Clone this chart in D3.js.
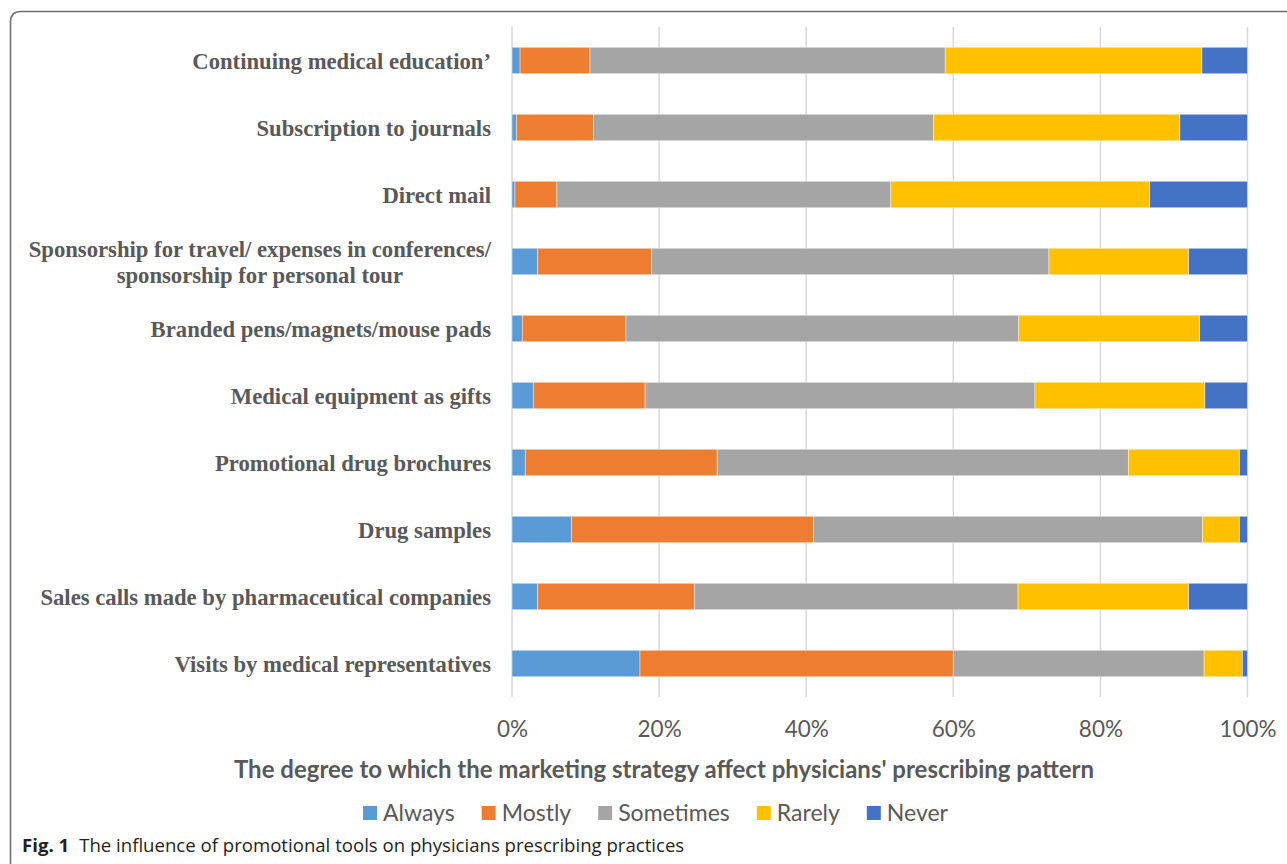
<!DOCTYPE html>
<html>
<head>
<meta charset="utf-8">
<script src="https://cdn.jsdelivr.net/npm/d3@7"></script>
<style>
  body { margin: 0; background: #fff; }
  svg { display: block; }
</style>
</head>
<body>
<div id="chart"></div>
<script>
// categories, top to bottom
var categories = [
  "Continuing medical education\u2019",
  "Subscription to journals",
  "Direct mail",
  "Sponsorship for travel/ expenses in conferences/\nsponsorship for personal tour",
  "Branded pens/magnets/mouse pads",
  "Medical equipment as gifts",
  "Promotional drug brochures",
  "Drug samples",
  "Sales calls made by pharmaceutical companies",
  "Visits by medical representatives"
];

var seriesNames = ["Always", "Mostly", "Sometimes", "Rarely", "Never"];
var seriesColors = ["#5b9bd5", "#ed7d31", "#a5a5a5", "#ffc000", "#4472c4"];

// percentages
var always    = [1.1, 0.6, 0.4, 3.5, 1.4, 2.9, 1.8, 8.1, 3.5, 17.4];
var mostly    = [9.5, 10.5, 5.7, 15.5, 14.1, 15.2, 26.1, 32.9, 21.3, 42.6];
var sometimes = [48.3, 46.2, 45.4, 54.0, 53.4, 53.0, 55.9, 52.9, 44.0, 34.1];
var rarely    = [34.9, 33.5, 35.2, 19.0, 24.6, 23.1, 15.1, 5.0, 23.2, 5.2];
var never     = [6.2, 9.2, 13.3, 8.0, 6.5, 5.8, 1.1, 1.1, 8.0, 0.7];

var tickValues = [0, 20, 40, 60, 80, 100];

var axisTitle = "The degree to which the marketing strategy affect physicians' prescribing pattern";
var captionBold = "Fig. 1";
var captionText = "The influence of promotional tools on physicians prescribing practices";

var width = 1287, height = 864;
var plot = {left: 512, right: 1247.5, top: 27, bottom: 697};

var rows = categories.map(function(c, i) {
  return {cat: c, Always: always[i], Mostly: mostly[i], Sometimes: sometimes[i], Rarely: rarely[i], Never: never[i]};
});

var svg = d3.select("#chart").append("svg")
    .attr("width", width)
    .attr("height", height);

// frame with rounded top-left corner
svg.append("path")
  .attr("d", "M10.5,870 L10.5,22 Q10.5,11.5 21,11.5 L1295,11.5")
  .attr("fill", "none")
  .attr("stroke", "#6e6e6e")
  .attr("stroke-width", 1.6);

var x = d3.scaleLinear().domain([0, 100]).range([plot.left, plot.right]);
var y = d3.scaleBand().domain(categories).range([plot.top, plot.bottom]).paddingInner(0.605).paddingOuter(0.3025);

// gridlines
svg.append("g")
  .selectAll("line")
  .data(tickValues)
  .join("line")
    .attr("x1", function(d) { return x(d); })
    .attr("x2", function(d) { return x(d); })
    .attr("y1", plot.top)
    .attr("y2", plot.bottom)
    .attr("stroke", "#d9d9d9")
    .attr("stroke-width", 1.5);

// stacked bars
var stack = d3.stack().keys(seriesNames);
var layers = stack(rows);

svg.append("g")
  .selectAll("g")
  .data(layers)
  .join("g")
    .attr("fill", function(d, i) { return seriesColors[i]; })
  .selectAll("rect")
  .data(function(d) { return d; })
  .join("rect")
    .attr("x", function(d) { return x(d[0]); })
    .attr("width", function(d) { return x(d[1]) - x(d[0]); })
    .attr("y", function(d) { return y(d.data.cat); })
    .attr("height", y.bandwidth())
    .attr("stroke", "#ffffff")
    .attr("stroke-opacity", 0.55)
    .attr("stroke-width", 0.75);

// category labels
var labelRight = 491;
var labels = svg.append("g")
  .attr("font-family", "'Liberation Serif', 'Times New Roman', serif")
  .attr("font-weight", "bold")
  .attr("font-size", 22.7)
  .attr("fill", "#595959");

categories.forEach(function(c) {
  var lines = c.split("\n");
  var cy = y(c) + y.bandwidth() / 2;
  var t = labels.append("text");
  if (lines.length === 1) {
    t.attr("x", labelRight).attr("y", cy + 8).attr("text-anchor", "end").text(c);
  } else {
    t.attr("text-anchor", "middle");
    var spans = lines.map(function(l, k) {
      return t.append("tspan").attr("y", cy + 8 + (k - (lines.length - 1) / 2) * 26).text(l);
    });
    var maxW = d3.max(spans, function(s) { return s.node().getComputedTextLength(); });
    spans.forEach(function(s) { s.attr("x", labelRight - maxW / 2); });
  }
});

// x axis tick labels
var xAxis = d3.axisBottom(x)
  .tickValues(tickValues)
  .tickFormat(function(d) { return d + "%"; })
  .tickSize(0)
  .tickPadding(0);

var gx = svg.append("g")
  .attr("transform", "translate(0," + 720 + ")")
  .call(xAxis);
gx.select(".domain").remove();
gx.selectAll("text")
  .attr("font-family", "Lato, 'Open Sans', sans-serif")
  .attr("font-size", 22.5)
  .attr("fill", "#595959")
  .attr("dy", "0.75em");

// axis title
svg.append("text")
  .attr("x", 664)
  .attr("y", 778)
  .attr("text-anchor", "middle")
  .attr("font-family", "Lato, 'Open Sans', sans-serif")
  .attr("font-weight", "bold")
  .attr("font-size", 24)
  .attr("fill", "#595959")
  .text(axisTitle);

// legend
var legend = svg.append("g")
  .attr("font-family", "Lato, 'Open Sans', sans-serif")
  .attr("font-size", 23)
  .attr("fill", "#595959");

var lx = 363;
seriesNames.forEach(function(name, i) {
  var g = legend.append("g").attr("transform", "translate(" + lx + ",0)");
  g.append("rect")
    .attr("x", 0).attr("y", 806)
    .attr("width", 14).attr("height", 14)
    .attr("fill", seriesColors[i]);
  var t = g.append("text")
    .attr("x", 20).attr("y", 821)
    .text(name);
  lx += 20 + t.node().getComputedTextLength() + 27;
});

// caption
var cap = svg.append("text")
  .attr("x", 22)
  .attr("y", 852)
  .attr("font-family", "'Open Sans', 'Noto Sans', sans-serif")
  .attr("font-size", 18.6)
  .attr("fill", "#231f20");
cap.append("tspan").attr("font-weight", "bold").text(captionBold);
cap.append("tspan").attr("dx", 10).text(captionText);
</script>
</body>
</html>
